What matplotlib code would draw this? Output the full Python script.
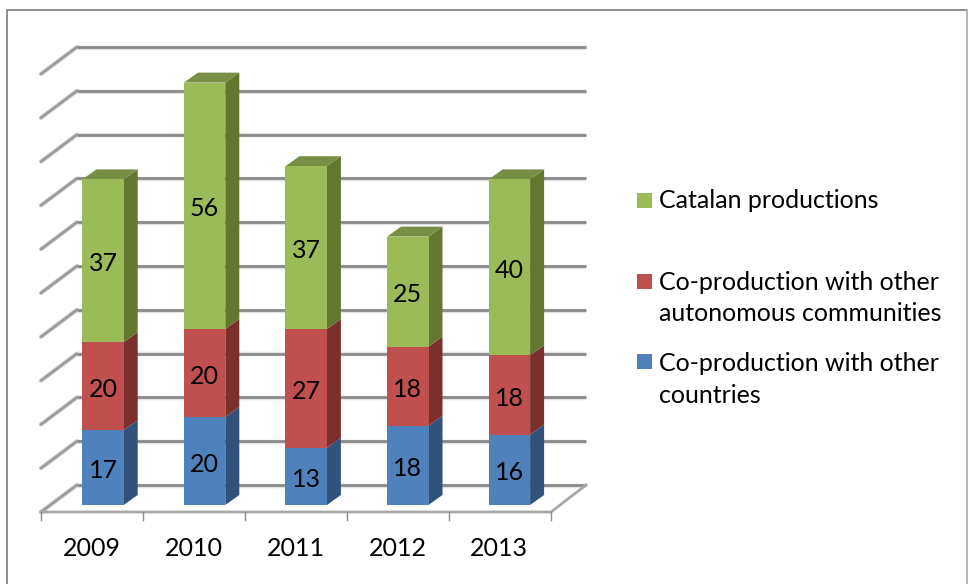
import matplotlib
matplotlib.use("Agg")
import matplotlib.pyplot as plt
from matplotlib.patches import Polygon, Rectangle

years = ["2009", "2010", "2011", "2012", "2013"]
catalan = [37, 56, 37, 25, 40]
coprod_auto = [20, 20, 27, 18, 18]
coprod_intl = [17, 20, 13, 18, 16]
series_names = ["Co-production with other\ncountries",
                "Co-production with other\nautonomous communities",
                "Catalan productions"]
grid_values = list(range(0, 101, 10))

W, H = 968, 584
plt.rcParams["font.family"] = ["Lato", "DejaVu Sans"]
FS = 18

face = ["#4F81BD", "#C0504D", "#9BBB59"]
side = ["#30527B", "#7B302E", "#63772F"]
top = ["#3F6797", "#9A403E", "#778F45"]
grid_c = "#8A8A8A"

fig = plt.figure(figsize=(W / 100, H / 100), dpi=100)
ax = fig.add_axes([0, 0, 1, 1])

# value axis: value 0 at pixel row 505, 4.4 px per unit; categories 101.6 px apart
PX_Y = 4.4
PX_X = 101.6
ax.set_xlim(-103 / PX_X, (W - 103) / PX_X)
ax.set_ylim((505 - H) / PX_Y, 505 / PX_Y)
ax.axis("off")


def X(px):
    return (px - 103) / PX_X


def Y(py):
    return (505 - py) / PX_Y


DX = 14 / PX_X
DY = 10 / PX_Y
HALF = 20.7 / PX_X
LABEL_DROP = 3 / PX_Y

# frame: left, top and right sides only, it runs off the bottom of the picture
ax.plot([X(7), X(7), X(967)], [Y(584), Y(9.5), Y(9.5)], color="#868686", lw=1.3, zorder=0)
ax.plot([X(967), X(967)], [Y(9.5), Y(584)], color="#B0B0B0", lw=1.3, zorder=0)

# gridlines (back wall + left wall)
WALL = 4.38 / PX_Y
for v in grid_values:
    by = Y(485) + v * WALL
    fy = Y(512) + v * WALL
    ax.plot([X(41), X(77)], [fy, by], color="#C8C8C8", lw=3.0, zorder=0.8,
            solid_capstyle="round")
    ax.plot([X(77), X(586)], [by - 0.2, by - 0.2], color="#E2E2E2", lw=3.2, zorder=0.8,
            solid_capstyle="butt")
    ax.plot([X(41), X(77)], [fy, by], color="#9A9A9A", lw=1.7, zorder=1,
            solid_capstyle="round")
    ax.plot([X(77), X(586)], [by, by], color=grid_c, lw=2.0, zorder=1,
            solid_capstyle="butt")

# floor front and right edge, tick marks
ax.plot([X(41), X(551), X(586)], [Y(512), Y(512), Y(485)], color="#A8A8A8", lw=2.0, zorder=1)
for i in range(len(years) + 1):
    tx = X(41 + 102 * i)
    ax.plot([tx, tx], [Y(512), Y(520)], color="#8C8C8C", lw=1.0, zorder=1)

# bars
stacks = [coprod_intl, coprod_auto, catalan]
for i, yr in enumerate(years):
    base = 0
    for s, vals in enumerate(stacks):
        v = vals[i]
        l, r = i - HALF, i + HALF
        ax.add_patch(Polygon([(r, base), (r + DX, base + DY), (r + DX, base + v + DY), (r, base + v)],
                             fc=side[s], ec="none", zorder=2 + 0.1 * s))
        ax.bar(i, v, bottom=base, width=2 * HALF, color=face[s], zorder=3)
        ax.text(i, base + v / 2 - LABEL_DROP, str(v), ha="center", va="center", fontsize=FS,
                color="black", zorder=5)
        base += v
        if s == len(stacks) - 1:
            ax.add_patch(Polygon([(l, base), (l + DX, base + DY), (r + DX, base + DY), (r, base)],
                                 fc=top[s], ec="none", zorder=2.5))
    ax.text(X(92 + 101.8 * i), Y(549), yr, ha="center", va="center", fontsize=FS, color="black")

# legend
legend_rows = [(200.5, 201), (281.5, 298), (361.5, 379.5)]
for s, (sq, ty) in zip([2, 1, 0], legend_rows):
    ax.add_patch(Rectangle((X(637), Y(sq + 7.5)), 15 / PX_X, 15 / PX_Y, fc=face[s], ec="none"))
    ax.text(X(659), Y(ty), series_names[s], ha="left", va="center", fontsize=FS,
            color="black", linespacing=1.46)

fig.savefig("out.png", dpi=100)
